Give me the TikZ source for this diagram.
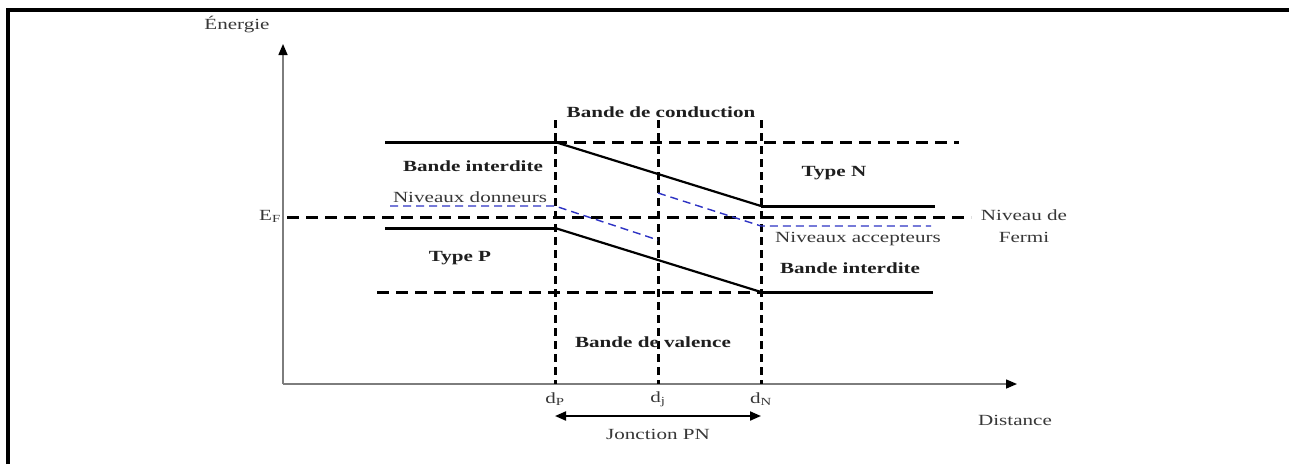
\documentclass[tikz,border=0pt]{standalone}
\usepackage{fontspec}
\setmainfont{Liberation Serif}[FakeStretch=1.36]
\usetikzlibrary{arrows.meta}
\definecolor{axisgray}{RGB}{125,125,125}
\definecolor{lvlblue}{RGB}{45,50,195}
\definecolor{txtgray}{RGB}{55,55,55}
\tikzset{
  band/.style={line width=3pt,black},
  banddash/.style={line width=3pt,black,dash pattern=on 12pt off 7pt},
  vdash/.style={line width=3pt,black,dash pattern=on 8pt off 5pt},
  lvl/.style={line width=1.4pt,lvlblue,dash pattern=on 8pt off 5pt},
  axis/.style={line width=1.5pt,axisgray,-{Triangle[length=11pt,width=9pt,color=black]}},
  lbl/.style={inner sep=0pt,font=\fontsize{15.5}{18}\selectfont\bfseries,text=black!88},
  rlbl/.style={inner sep=0pt,font=\fontsize{15.5}{18}\selectfont,text=txtgray},
}
\begin{document}
\begin{tikzpicture}[x=1pt,y=-1pt]
\useasboundingbox (0,0) rectangle (1289,464);
% frame
\draw[line width=4pt] (8,464) -- (8,10) -- (1289,10);
% coordinates
\coordinate (O) at (283,384);
\coordinate (Ytop) at (283,44);
\coordinate (Xend) at (1017,384);
\coordinate (dPt) at (555,120); \coordinate (dPb) at (555,384);
\coordinate (djt) at (658,120); \coordinate (djb) at (658,384);
\coordinate (dNt) at (761,120); \coordinate (dNb) at (761,384);
\coordinate (cL) at (385,142); \coordinate (cP) at (555,142);
\coordinate (cN) at (761,206); \coordinate (cR) at (935,206);
\coordinate (cD) at (959,142);
\coordinate (fL) at (287,217); \coordinate (fR) at (971,217);
\coordinate (vL) at (385,228); \coordinate (vP) at (555,228);
\coordinate (vN) at (761,292); \coordinate (vR) at (933,292);
\coordinate (vD) at (377,292);
\coordinate (bL) at (390,206); \coordinate (bP) at (555,206); \coordinate (bj) at (658,240);
\coordinate (aj) at (658,193); \coordinate (aN) at (761,226); \coordinate (aR) at (931,226);
\coordinate (jL) at (555,416); \coordinate (jR) at (761,416);
% axes
\draw[axis] (O) -- (Ytop);
\draw[axis] (O) -- (Xend);
% vertical dashed
\draw[vdash] (dPt) -- (dPb);
\draw[vdash] (djt) -- (djb);
\draw[vdash] (dNt) -- (dNb);
% conduction band
\draw[banddash] (cP) -- (cD);
\draw[band] (cL) -- (cP);
\draw[line width=2.2pt] (cP) -- (cN);
\draw[band] (cN) -- (cR);
% Fermi
\draw[banddash] (fL) -- (fR);
% valence band
\draw[banddash] (vD) -- (vN);
\draw[band] (vL) -- (vP);
\draw[line width=2.2pt] (vP) -- (vN);
\draw[band] (vN) -- (vR);
% levels
\draw[lvl] (bL) -- (bP) -- (bj);
\draw[lvl] (aj) -- (aN) -- (aR);
% junction arrow
\draw[line width=2pt,{Triangle[length=11pt,width=9pt]}-{Triangle[length=11pt,width=9pt]}] (jL) -- (jR);
% labels
\node[rlbl] (en) at (237,25) {Énergie};
\node[rlbl] (ef) at (270,216) {E\textsubscript{F}};
\node[lbl] (bc) at (661,112) {Bande de conduction};
\node[lbl] (bi1) at (473,166) {Bande interdite};
\node[rlbl] (nd) at (470,197) {Niveaux donneurs};
\node[lbl] (tp) at (460,258) {Type P};
\node[lbl] (tn) at (834,173) {Type N};
\node[rlbl] (na) at (858,239) {Niveaux accepteurs};
\node[lbl] (bi2) at (850,268) {Bande interdite};
\node[lbl] (bv) at (653,342) {Bande de valence};
\node[rlbl] (nf1) at (1024,215) {Niveau de};
\node[rlbl] (nf2) at (1024,237) {Fermi};
\node[rlbl] (dp) at (555,399) {d\textsubscript{P}};
\node[rlbl] (dj) at (658,399) {d\textsubscript{j}};
\node[rlbl] (dn) at (761,399) {d\textsubscript{N}};
\node[rlbl] (jpn) at (658,434) {Jonction PN};
\node[rlbl] (dist) at (1015,420) {Distance};
\end{tikzpicture}
\end{document}
